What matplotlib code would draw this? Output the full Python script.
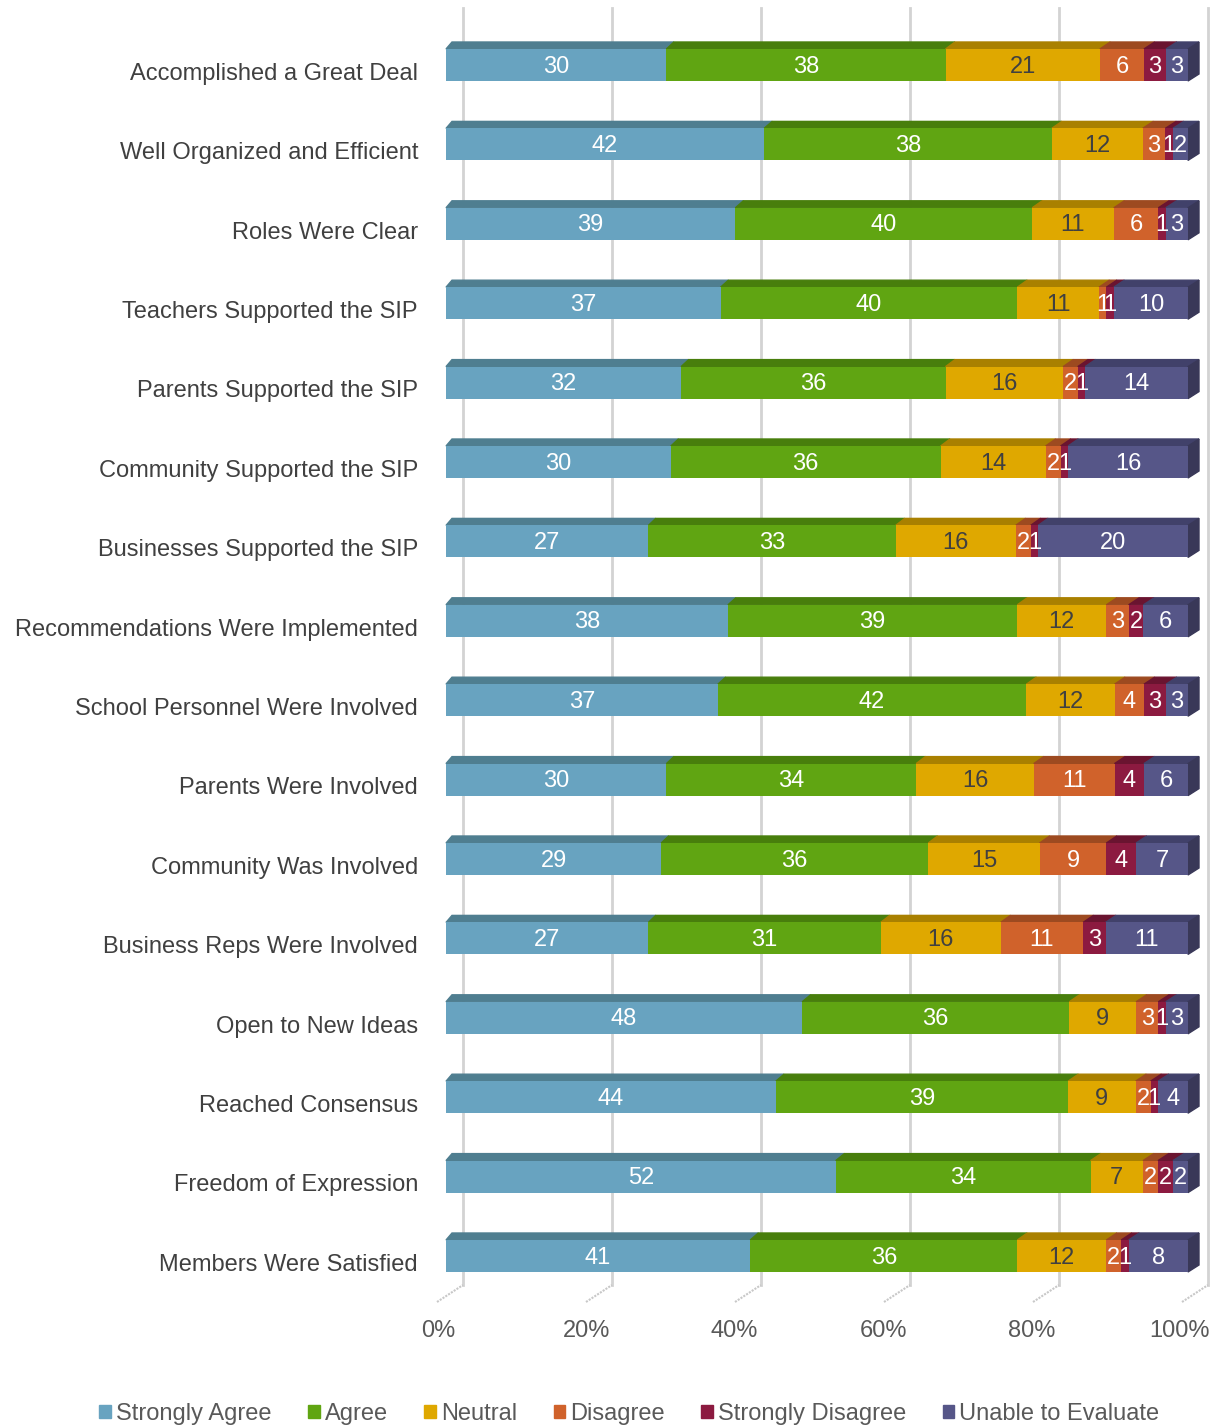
import matplotlib.pyplot as plt
from matplotlib.patches import Polygon, Rectangle
import numpy as np

# -----------------------
# Data
# -----------------------
categories = [
    "Accomplished a Great Deal",
    "Well Organized and Efficient",
    "Roles Were Clear",
    "Teachers Supported the SIP",
    "Parents Supported the SIP",
    "Community Supported the SIP",
    "Businesses Supported the SIP",
    "Recommendations Were Implemented",
    "School Personnel Were Involved",
    "Parents Were Involved",
    "Community Was Involved",
    "Business Reps Were Involved",
    "Open to New Ideas",
    "Reached Consensus",
    "Freedom of Expression",
    "Members Were Satisfied",
]
series = ["Strongly Agree", "Agree", "Neutral", "Disagree",
          "Strongly Disagree", "Unable to Evaluate"]
strongly_agree = [30, 42, 39, 37, 32, 30, 27, 38, 37, 30, 29, 27, 48, 44, 52, 41]
agree = [38, 38, 40, 40, 36, 36, 33, 39, 42, 34, 36, 31, 36, 39, 34, 36]
neutral = [21, 12, 11, 11, 16, 14, 16, 12, 12, 16, 15, 16, 9, 9, 7, 12]
disagree = [6, 3, 6, 1, 2, 2, 2, 3, 4, 11, 9, 11, 3, 2, 2, 2]
strongly_disagree = [3, 1, 1, 1, 1, 1, 1, 2, 3, 4, 4, 3, 1, 1, 2, 1]
unable = [3, 2, 3, 10, 14, 16, 20, 6, 3, 6, 7, 11, 3, 4, 2, 8]
ticks = [0, 20, 40, 60, 80, 100]

front = ["#68a3c0", "#60a512", "#dfa800", "#d0622b", "#8c1a40", "#565688"]
top = ["#4f7e90", "#487e0c", "#a98000", "#9d4a20", "#6a1430", "#41416a"]
side = "#393858"
text_col = ["white", "white", "#404040", "white", "white", "white"]

vals = np.array([strongly_agree, agree, neutral, disagree,
                 strongly_disagree, unable], dtype=float)
pct = vals / vals.sum(axis=0) * 100

# -----------------------
# Figure / axes geometry
# -----------------------
W, H = 1222, 1426
fig = plt.figure(figsize=(W / 100, H / 100), dpi=100)
plt.rcParams['font.family'] = ['Liberation Sans', 'DejaVu Sans']
ax = fig.add_axes([446 / W, 126 / H, 742 / W, 1300 / H])
row_px = 79.4
ax.set_xlim(0, 100)
ax.set_ylim((1300 - 65) / row_px, -65 / row_px)
ax.axis("off")

px_x = 7.42           # pixels per percent
h = 32 / row_px       # front face height
ddy = 7 / row_px      # depth offset (up)
fs = 17


def ddx(x):
    # depth offset to the right grows a bit with x (perspective)
    return (6 + 5 * x / 100) / px_x


# gridlines on the back wall
grid_off = 17 / px_x
for t in ticks:
    gx = t * 149 / 148.4 + grid_off
    ax.plot([gx, gx], [-57 / row_px, (1285 - 65) / row_px],
            color="#d3d3d3", lw=2, zorder=0, clip_on=False)
    # floor diagonal marks
    ax.plot([gx - 26 / px_x, gx], [(1302 - 65) / row_px, (1285 - 65) / row_px],
            color="#c8c8c8", lw=1.5, ls=(0, (1, 0.6)), zorder=0, clip_on=False)
    ax.text(t - 1.1, (1331 - 65) / row_px, f"{t}%", ha="center", va="center",
            fontsize=fs, color="#595959", clip_on=False)

y = np.arange(len(categories))
left = np.zeros(len(categories))
for s in range(len(series)):
    ax.barh(y, pct[s], h, left=left, color=front[s], zorder=3,
            label=series[s])
    for i in range(len(categories)):
        x0, x1 = left[i], left[i] + pct[s, i]
        yt = i - h / 2
        ax.add_patch(Polygon([(x0, yt), (x1, yt),
                              (x1 + ddx(x1), yt - ddy),
                              (x0 + ddx(x0), yt - ddy)],
                             closed=True, color=top[s], zorder=2,
                             clip_on=False))
        ax.text((x0 + x1) / 2, i + 0.02, f"{int(vals[s, i])}", ha="center",
                va="center", fontsize=fs, color=text_col[s], zorder=5)
    left += pct[s]

# right side face of each bar
for i in range(len(categories)):
    x1 = left[i]
    yt, yb = i - h / 2, i + h / 2
    d = ddx(x1)
    ax.add_patch(Polygon([(x1, yt), (x1 + d, yt - ddy), (x1 + d, yb - ddy),
                          (x1, yb)], closed=True, color=side, zorder=2,
                         clip_on=False))

# category labels
for i, c in enumerate(categories):
    ax.text(-28 / px_x, i + 0.11, c, ha="right", va="center", fontsize=fs,
            color="#404040", clip_on=False)

handles = [Rectangle((0, 0), 1, 1, color=c) for c in front]
fig.legend(handles, series, loc="center", bbox_to_anchor=(0.515, 12 / H),
           ncol=6, frameon=False, fontsize=fs, handlelength=0.5,
           handleheight=0.5, handletextpad=0.2, columnspacing=1.55,
           labelcolor="#595959")

fig.savefig("out.png", dpi=100)
